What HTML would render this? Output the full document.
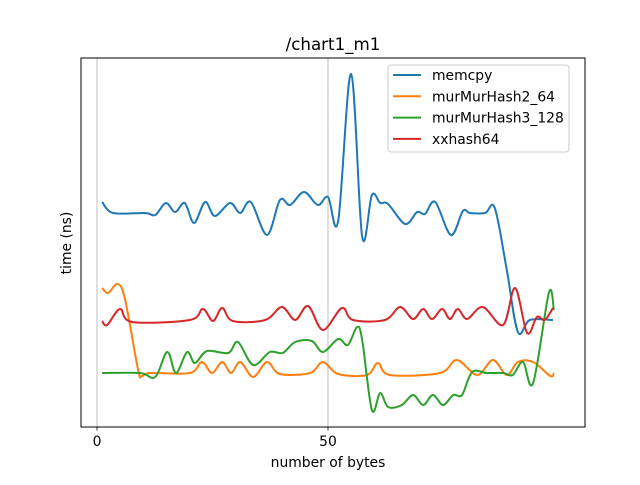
<!DOCTYPE html>
<html><head><meta charset="utf-8"><style>
html,body{margin:0;padding:0;background:#fff;}
svg text{font-family:"DejaVu Sans","Liberation Sans",sans-serif;}
</style></head><body>
<svg id="chart" width="640" height="480" xmlns="http://www.w3.org/2000/svg">
<rect width="640" height="480" fill="#fff"/>
<g id="grid"></g>
<g id="series"></g>
<rect x="81" y="58" width="504" height="369" fill="none" stroke="#000" stroke-width="1"/>
<g id="xticks"></g>
<text x="333" y="50" font-size="16.7" text-anchor="middle">/chart1_m1</text>
<text x="328" y="467" font-size="13.9" text-anchor="middle">number of bytes</text>
<text x="71" y="243" font-size="13.9" text-anchor="middle" transform="rotate(-90 71 243)">time (ns)</text>
<g id="legend">
<rect x="388" y="65" width="181" height="87" rx="3" fill="#fff" fill-opacity="0.8" stroke="#ccc"/>
</g>
</svg>
<script>
const seriesNames = ["memcpy","murMurHash2_64","murMurHash3_128","xxhash64"];
const seriesColors = ["#1f77b4","#ff7f0e","#2ca02c","#d62728"];
const xTickValues = [0,50];
const xTickLabels = ["0","50"];
const memcpyX = [1.1,3.5,10.4,12.6,14.9,16.9,19.0,21.0,23.4,25.5,28.8,31.0,33.3,36.8,39.6,41.8,44.8,47.8,50.0,52.2,55.0,57.4,59.5,61.3,63.0,66.7,69.3,71.0,73.2,76.6,79.2,80.7,84.0,86.1,88.7,91.1,93.7,98.7];
const memcpyY = [225,214,214,212,224,215,224,204,225,211,224,214,225,192,227,222,235,222,230,206,353,190,232,224,223,203,215,213,225,192,216,214,214,219,157,95,107,107];
const mm2X = [1.1,2.4,4.5,6.1,8.9,9.7,11.5,20.1,22.7,24.9,27.1,29.0,31.0,33.8,36.8,39.6,46.1,48.9,52.2,58.4,60.8,63.4,74.2,77.9,82.3,85.7,88.7,91.1,94.4,98.1,98.9];
const mm2Y = [139,134,143,127,57,51,54,54,65,54,65,54,65,50,65,53,54,65,53,52,64,52,54,67,52,67,52,65,65,51,54];
const mm3X = [1.1,9.3,12.6,15.2,17.1,19.5,21.2,23.8,28.4,30.5,33.8,37.4,40.2,42.9,46.5,48.9,52.2,54.3,56.3,57.4,59.5,61.3,63.0,66.0,68.4,70.6,72.7,74.9,77.1,79.0,81.2,84.4,87.9,90.0,92.2,94.4,97.8,98.9];
const mm3Y = [54,54,50,75,54,75,64,76,74,85,62,75,74,85,86,75,88,82,100,87,17,34,20,22,32,22,32,22,32,32,55,54,54,52,65,44,134,117];
const xxX = [1.1,2.2,5.0,7.6,20.1,22.9,25.1,27.1,29.4,36.4,40.0,42.9,45.7,48.9,53.0,55.4,62.3,65.6,68.4,70.6,72.5,74.7,76.4,78.1,80.1,83.5,87.9,90.5,93.1,95.2,96.9,98.7];
const xxY = [106,102,118,105,107,118,106,119,106,107,120,107,121,97,119,107,107,120,108,118,108,118,108,118,108,120,102,139,94,110,107,119];

const NS="http://www.w3.org/2000/svg";
function xScale(v){return 97+v*4.62;}
function yScale(v){return 427-v;}
function mk(t,a,p){const e=document.createElementNS(NS,t);for(const k in a)e.setAttribute(k,a[k]);p.appendChild(e);return e;}
function smoothPath(xs,ys){
  const p=xs.map((x,i)=>[xScale(x),yScale(ys[i])]);
  let d="M"+p[0][0]+","+p[0][1];
  for(let i=0;i<p.length-1;i++){
    const p0=p[i-1]||p[i],p1=p[i],p2=p[i+1],p3=p[i+2]||p2;
    const c1=[p1[0]+(p2[0]-p0[0])/6,p1[1]+(p2[1]-p0[1])/6];
    const c2=[p2[0]-(p3[0]-p1[0])/6,p2[1]-(p3[1]-p1[1])/6];
    d+=" C"+c1[0].toFixed(2)+","+c1[1].toFixed(2)+" "+c2[0].toFixed(2)+","+c2[1].toFixed(2)+" "+p2[0].toFixed(2)+","+p2[1].toFixed(2);
  }
  return d;
}
const grid=document.getElementById('grid'),xt=document.getElementById('xticks');
xTickValues.forEach((v,i)=>{
  const g=mk('line',{x1:xScale(v),x2:xScale(v),y1:58,y2:427,stroke:'#b0b0b0','stroke-width':0.8},grid);
  
  
  const t=mk('line',{x1:xScale(v),x2:xScale(v),y1:427,y2:430.5,stroke:'#000','stroke-width':0.8},xt);
  
  
  const l=mk('text',{x:xScale(v),y:446,'font-size':13.9,'text-anchor':'middle'},xt);
  l.textContent=xTickLabels[i];
  
  
});
const sg=document.getElementById('series');
const data=[[memcpyX,memcpyY],[mm2X,mm2Y],[mm3X,mm3Y],[xxX,xxY]];
data.forEach((s,i)=>{
  const p=mk('path',{d:smoothPath(s[0],s[1]),fill:'none',stroke:seriesColors[i],'stroke-width':2,'stroke-linejoin':'round'},sg);
  
  
});
const lg=document.getElementById('legend');
seriesNames.forEach((n,i)=>{
  const y=75+i*21.3;
  const g=mk('g',{},lg);
  
  
  mk('line',{x1:393,x2:421,y1:y,y2:y,stroke:seriesColors[i],'stroke-width':2},g);
  const t=mk('text',{x:432,y:y+5,'font-size':13.9},g);
  t.textContent=n;
});
</script>
</body></html>
